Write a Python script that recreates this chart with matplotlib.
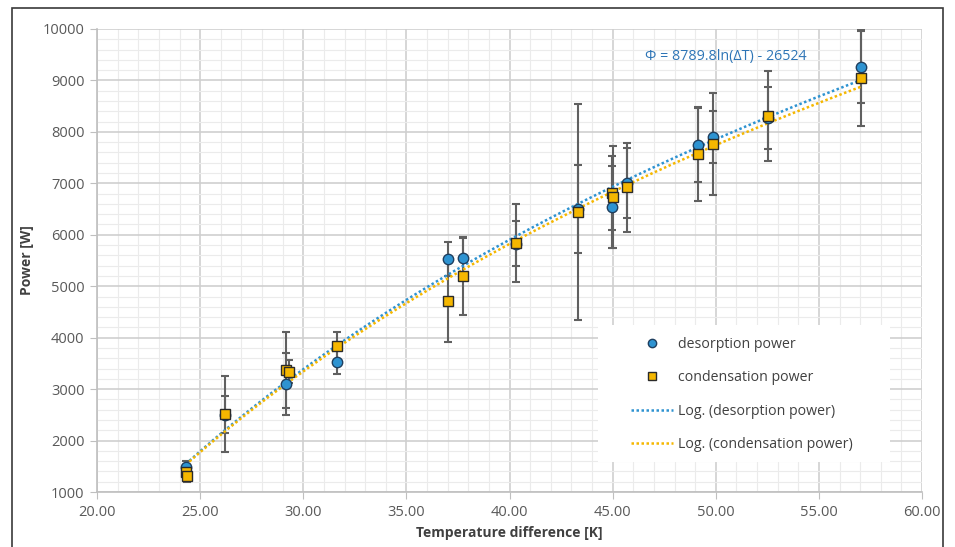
import matplotlib
matplotlib.use("Agg")
import matplotlib.pyplot as plt
from matplotlib.patches import Rectangle
from matplotlib.lines import Line2D
from matplotlib.ticker import MultipleLocator, FormatStrFormatter
import numpy as np

plt.rcParams['font.family'] = ['Open Sans', 'DejaVu Sans']

# desorption power (blue circles)
des_dT = [24.3, 26.2, 29.15, 31.65, 37.0, 37.75, 40.3, 43.3, 44.95, 45.7, 49.15, 49.85, 52.55, 57.05]
des_P = [1490, 2500, 3100, 3530, 5530, 5540, 5830, 6500, 6540, 7000, 7750, 7900, 8270, 9260]
des_err = [120, 360, 600, 240, 330, 400, 430, 850, 800, 680, 720, 500, 600, 700]

# condensation power (orange squares)
con_dT = [24.3, 24.35, 26.2, 29.15, 29.3, 31.65, 37.0, 37.75, 40.3, 43.3, 44.95, 45.0, 45.7,
          49.15, 49.85, 52.55, 57.05]
con_P = [1390, 1320, 2520, 3370, 3340, 3840, 4720, 5200, 5840, 6440, 6810, 6740, 6920,
         7570, 7770, 8310, 9050]
con_err = [130, 120, 740, 740, 230, 270, 800, 760, 760, 2100, 720, 990, 870,
           910, 990, 870, 940]

equation = 'Φ = 8789.8ln(ΔT) - 26524'

blue = '#2E93D1'
orange = '#F5B700'
err_col = '#606060'

fig = plt.figure(figsize=(9.55, 5.47), dpi=100)
ax = fig.add_axes([97 / 955, 1 - 492 / 547, (922 - 97) / 955, (492 - 29) / 547])

# outer frame of the chart area
fig.patches.append(Rectangle((12 / 955, -0.05), (943 - 12) / 955, 1.05 - 8 / 547,
                             transform=fig.transFigure, fill=False,
                             edgecolor='#3a3a3a', linewidth=1.2))

ax.set_xlim(20, 60)
ax.set_ylim(1000, 10000)
ax.xaxis.set_major_locator(MultipleLocator(5))
ax.xaxis.set_minor_locator(MultipleLocator(1))
ax.yaxis.set_major_locator(MultipleLocator(1000))
ax.yaxis.set_minor_locator(MultipleLocator(200))
ax.xaxis.set_major_formatter(FormatStrFormatter('%.2f'))
ax.set_axisbelow(True)
ax.grid(which='major', color='#CFCFCF', linewidth=1.2)
ax.grid(which='minor', color='#EBEBEB', linewidth=0.8)

for s in ['top', 'right']:
    ax.spines[s].set_visible(False)
for s in ['left', 'bottom']:
    ax.spines[s].set_color('#BFBFBF')
    ax.spines[s].set_linewidth(1.2)
ax.tick_params(which='major', length=5, color='#BFBFBF', labelsize=10.5,
               labelcolor='#595959', pad=4)
ax.tick_params(which='minor', length=0)

# white box behind the legend
ax.add_patch(Rectangle((598 / 955, 1 - 462 / 547), (890 - 598) / 955, (462 - 325) / 547,
                       transform=fig.transFigure, facecolor='white', edgecolor='none',
                       zorder=1, clip_on=False))

# error bars
ax.errorbar(des_dT, des_P, yerr=des_err, fmt='none', ecolor=err_col,
            elinewidth=1.5, capsize=3, capthick=1.5, zorder=2)
ax.errorbar(con_dT, con_P, yerr=con_err, fmt='none', ecolor=err_col,
            elinewidth=1.5, capsize=3, capthick=1.5, zorder=2)

# logarithmic trend lines fitted to each series
for xs, ys, col in [(des_dT, des_P, blue), (con_dT, con_P, orange)]:
    a, b = np.polyfit(np.log(xs), ys, 1)
    xx = np.linspace(min(xs), max(xs), 200)
    ax.plot(xx, a * np.log(xx) + b, color=col, linestyle=(0, (1, 1)),
            linewidth=1.8, zorder=3)

ax.plot(des_dT, des_P, 'o', ms=7.5, mfc=blue, mec='#1F3F5F', mew=1.0, zorder=4)
ax.plot(con_dT, con_P, 's', ms=7.5, mfc=orange, mec='#2a2a2a', mew=1.0, zorder=5)

ax.text(46.55, 9460, equation, color='#2E75B6', fontsize=10.3, va='center', ha='left')

ax.set_ylabel('Power [W]', fontsize=10, fontweight='bold', color='#404040', labelpad=6)
ax.set_xlabel('Temperature difference [K]', fontsize=10, fontweight='bold',
              color='#404040', labelpad=5)

handles = [
    Line2D([], [], marker='o', ls='none', ms=6, mfc=blue, mec='#1F3F5F'),
    Line2D([], [], marker='s', ls='none', ms=6, mfc=orange, mec='#2a2a2a'),
    Line2D([], [], color=blue, linestyle=(0, (1, 1)), linewidth=1.8),
    Line2D([], [], color=orange, linestyle=(0, (1, 1)), linewidth=1.8),
]
labels = ['desorption power', 'condensation power',
          'Log. (desorption power)', 'Log. (condensation power)']
leg = ax.legend(handles, labels, loc='upper left', frameon=False, fontsize=10.2,
                bbox_to_anchor=(621 / 955, 1 - 327 / 547), bbox_transform=fig.transFigure,
                handlelength=3.0, handletextpad=0.3, labelspacing=1.3, borderpad=0.2)
for t in leg.get_texts():
    t.set_color('#404040')
leg.set_zorder(6)

fig.savefig('out.png', dpi=100)
